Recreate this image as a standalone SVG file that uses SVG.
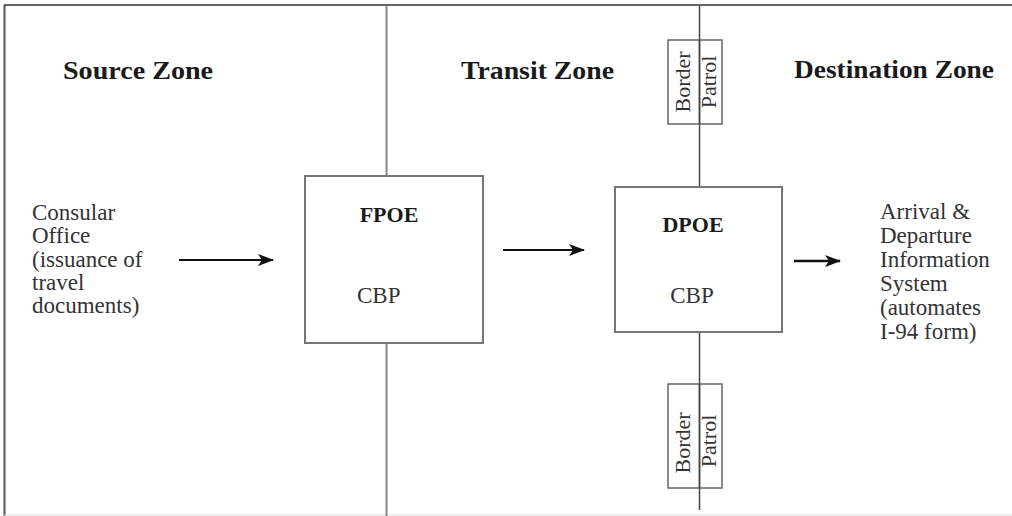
<svg xmlns="http://www.w3.org/2000/svg" width="1012" height="516" viewBox="0 0 1012 516">
<style>
.zone{font-family:"Liberation Serif",serif;font-weight:bold;font-size:26px;fill:#1a1a1a}
.t{font-family:"Liberation Serif",serif;font-size:23px;fill:#333}
.b{font-family:"Liberation Serif",serif;font-size:22px;font-weight:bold;fill:#1a1a1a}
.box{fill:#fff;stroke:#777;stroke-width:2}
.arr{stroke:#111;stroke-width:2;fill:none;marker-end:url(#ah)}
</style>
<defs>
<marker id="ah" viewBox="0 0 16 12" refX="15" refY="6" markerWidth="16" markerHeight="12" markerUnits="userSpaceOnUse" orient="auto">
<path d="M0,0 L16,6 L0,12 L4,6 Z" fill="#111"/>
</marker>
</defs>
<rect width="1012" height="516" fill="#fff"/>
<g id="frame">
<line x1="4" y1="5" x2="1012" y2="5" stroke="#666" stroke-width="2"/>
<line x1="4.5" y1="5" x2="4.5" y2="516" stroke="#555" stroke-width="2"/>
<line x1="4" y1="515" x2="1012" y2="515" stroke="#ddd" stroke-width="1"/>
<line x1="386.5" y1="6" x2="386.5" y2="516" stroke="#888" stroke-width="2"/>
<line x1="699.5" y1="6" x2="699.5" y2="510" stroke="#444" stroke-width="1.5"/>
</g>
<g id="zones">
<text class="zone" x="63" y="79" textLength="150" lengthAdjust="spacingAndGlyphs">Source Zone</text>
<text class="zone" x="461" y="79" textLength="153" lengthAdjust="spacingAndGlyphs">Transit Zone</text>
<text class="zone" x="794" y="78" textLength="200" lengthAdjust="spacingAndGlyphs">Destination Zone</text>
</g>
<g id="consular">
<text class="t" x="32" y="220">Consular</text>
<text class="t" x="32" y="243">Office</text>
<text class="t" x="32" y="267">(issuance of</text>
<text class="t" x="32" y="290">travel</text>
<text class="t" x="32" y="313">documents)</text>
</g>
<g id="fpoe">
<rect class="box" x="305" y="176" width="178" height="167"/>
<text class="b" x="389" y="222" text-anchor="middle">FPOE</text>
<text class="t" x="357" y="303">CBP</text>
</g>
<g id="dpoe">
<rect class="box" x="615" y="187" width="167" height="145"/>
<text class="b" x="693" y="232" text-anchor="middle">DPOE</text>
<text class="t" x="692" y="303" text-anchor="middle">CBP</text>
</g>
<g id="adis">
<text class="t" x="880" y="219">Arrival &amp;</text>
<text class="t" x="880" y="243">Departure</text>
<text class="t" x="880" y="267">Information</text>
<text class="t" x="880" y="291">System</text>
<text class="t" x="880" y="315">(automates</text>
<text class="t" x="880" y="339">I-94 form)</text>
</g>
<g id="border-top">
<rect x="668" y="40" width="54" height="84" fill="none" stroke="#666" stroke-width="1.5"/>
<line x1="699.5" y1="40" x2="699.5" y2="124" stroke="#444" stroke-width="1.5"/>
<text class="t" transform="translate(690,82) rotate(-90)" text-anchor="middle" style="font-size:22px">Border</text>
<text class="t" transform="translate(716,82) rotate(-90)" text-anchor="middle" style="font-size:22px">Patrol</text>
</g>
<g id="border-bottom">
<rect x="668" y="384" width="54" height="104" fill="none" stroke="#666" stroke-width="1.5"/>
<line x1="699.5" y1="384" x2="699.5" y2="488" stroke="#444" stroke-width="1.5"/>
<text class="t" transform="translate(690,443) rotate(-90)" text-anchor="middle" style="font-size:22px">Border</text>
<text class="t" transform="translate(716,441) rotate(-90)" text-anchor="middle" style="font-size:22px">Patrol</text>
</g>
<g id="connectors">
<line class="arr" x1="179" y1="260" x2="273" y2="260"/>
<line class="arr" x1="503" y1="250" x2="584" y2="250"/>
<line class="arr" x1="794" y1="261" x2="840" y2="261" style="stroke-width:2.5"/>
</g>
</svg>
